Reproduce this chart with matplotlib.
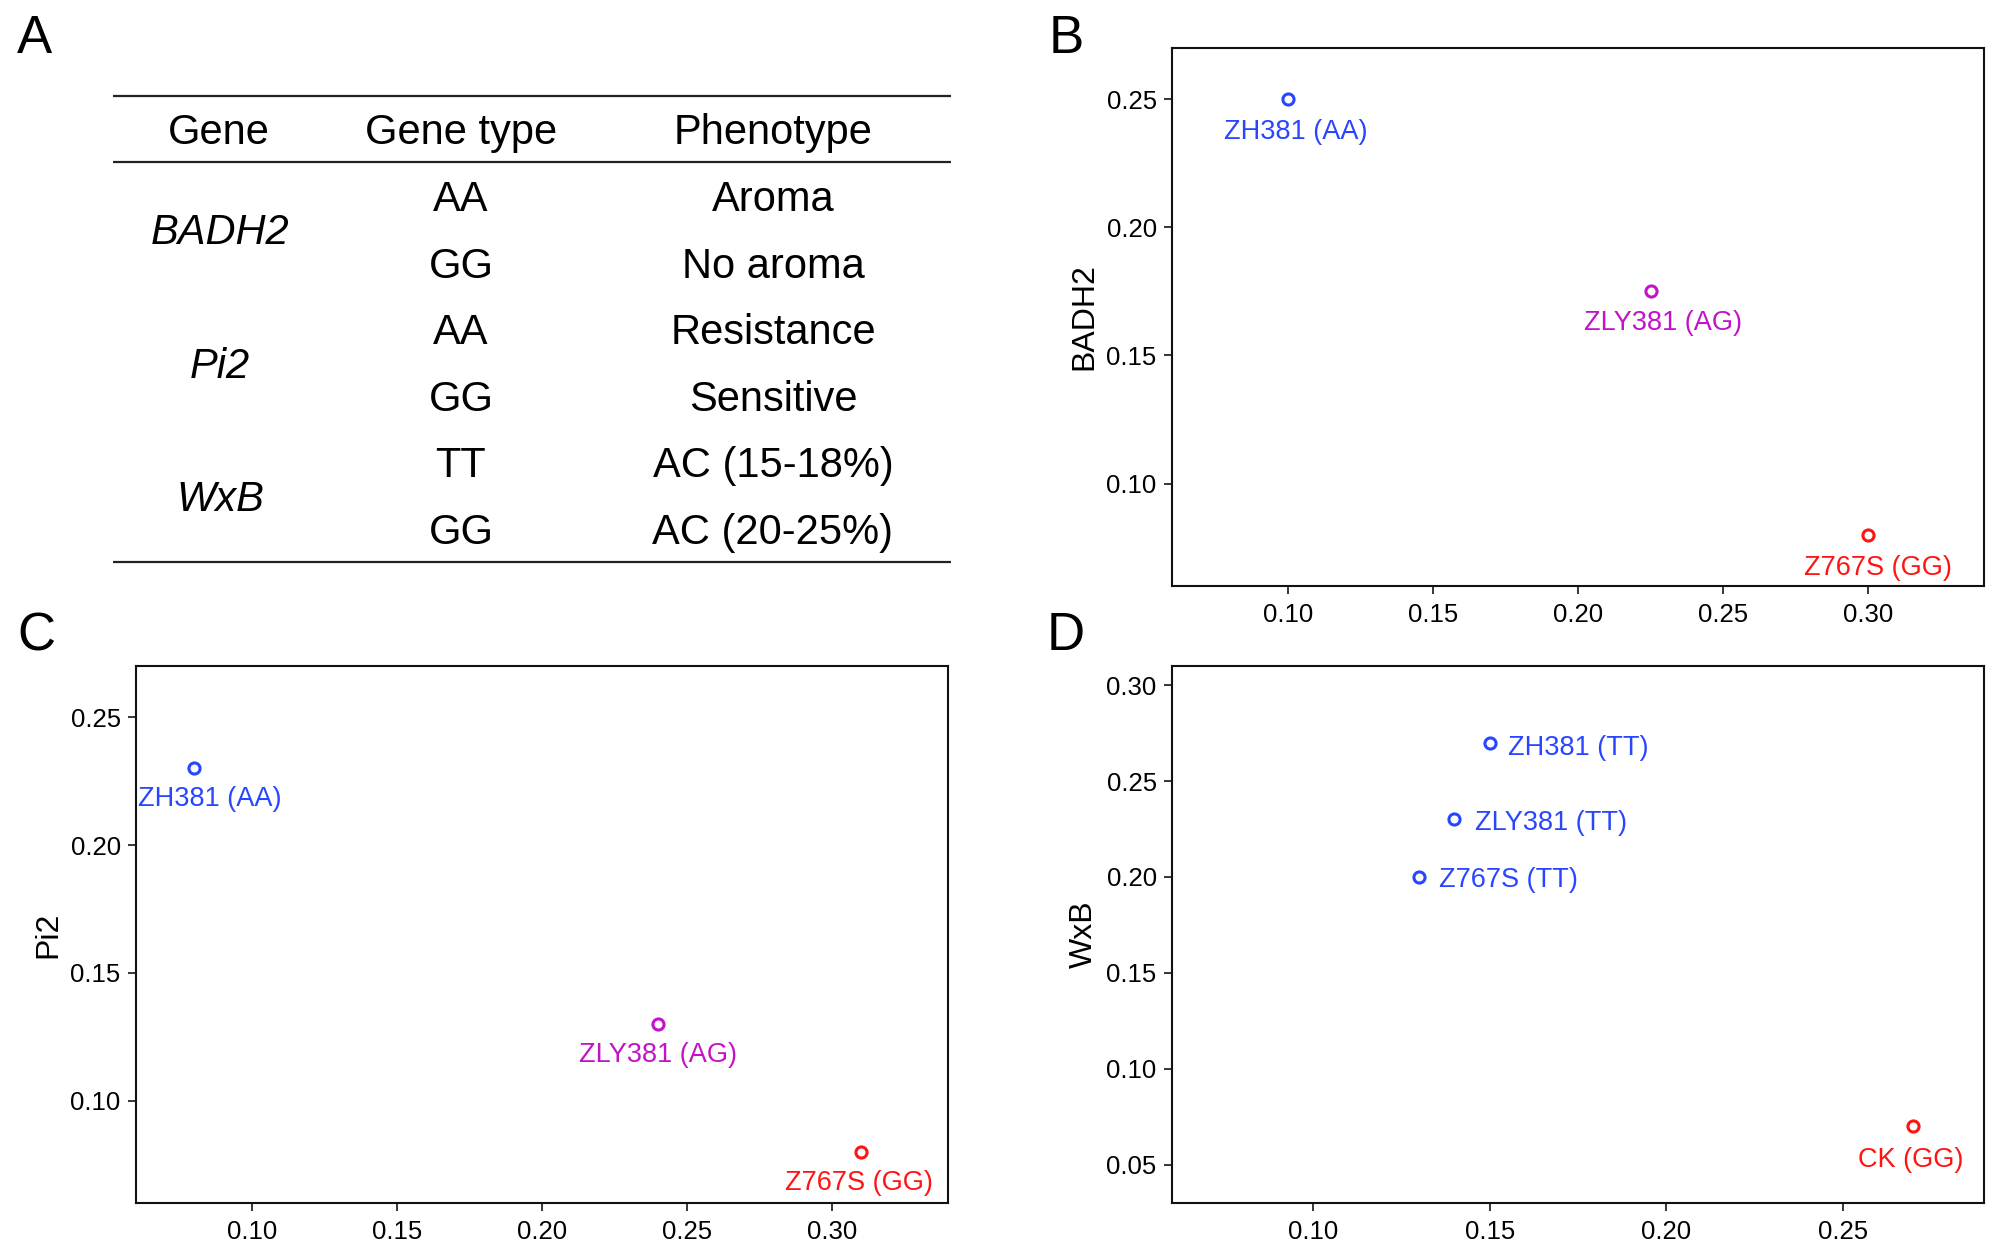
import matplotlib
matplotlib.use("Agg")
import matplotlib.pyplot as plt

plt.rcParams['font.family'] = ['Liberation Sans', 'DejaVu Sans']

# ---------------- data ----------------
table_header = ["Gene", "Gene type", "Phenotype"]
table_genes = ["BADH2", "Pi2", "WxB"]
table_genotypes = ["AA", "GG", "AA", "GG", "TT", "GG"]
table_phenotypes = ["Aroma", "No aroma", "Resistance", "Sensitive", "AC (15-18%)", "AC (20-25%)"]

b_labels = ["ZH381 (AA)", "ZLY381 (AG)", "Z767S (GG)"]
b_x = [0.10, 0.225, 0.30]
b_y = [0.25, 0.175, 0.08]

c_labels = ["ZH381 (AA)", "ZLY381 (AG)", "Z767S (GG)"]
c_x = [0.08, 0.24, 0.31]
c_y = [0.23, 0.13, 0.08]

d_labels = ["ZH381 (TT)", "ZLY381 (TT)", "Z767S (TT)", "CK (GG)"]
d_x = [0.15, 0.14, 0.13, 0.27]
d_y = [0.27, 0.23, 0.20, 0.07]

xticks_bc = [0.10, 0.15, 0.20, 0.25, 0.30]
yticks_bc = [0.10, 0.15, 0.20, 0.25]
xticks_d = [0.10, 0.15, 0.20, 0.25]
yticks_d = [0.05, 0.10, 0.15, 0.20, 0.25, 0.30]

# ---------------- style ----------------
BLUE = '#2846ff'
MAG = '#c313c8'
RED = '#ff1414'
W, H = 2001, 1259

fig = plt.figure(figsize=(W / 100, H / 100), dpi=100)

# overlay axes in pixel coordinates for table and panel letters
ov = fig.add_axes([0, 0, 1, 1])
ov.set_xlim(0, W)
ov.set_ylim(H, 0)
ov.axis('off')

for yl in (96, 162, 562):
    ov.plot([113, 951], [yl, yl], color='#222222', lw=1.6, solid_capstyle='butt')

col_x = [219, 461, 773]
TFS = 30
for cx, t in zip(col_x, table_header):
    ov.text(cx, 133, t, ha='center', va='center', fontsize=TFS)
row_y0, row_dy = 200, 66.6
for i, (gt, ph) in enumerate(zip(table_genotypes, table_phenotypes)):
    yy = row_y0 + i * row_dy
    ov.text(col_x[1], yy, gt, ha='center', va='center', fontsize=TFS)
    ov.text(col_x[2], yy, ph, ha='center', va='center', fontsize=TFS)
for j, g in enumerate(table_genes):
    yy = row_y0 + (2 * j + 0.5) * row_dy
    ov.text(col_x[0] + 1, yy, g, ha='center', va='center', fontsize=TFS, style='italic')

for letter, (px, py) in zip("ABCD", [(34, 39), (1066, 39), (36, 636), (1066, 636)]):
    ov.text(px, py, letter, ha='center', va='center', fontsize=38)


def make_ax(rect_px, xlim, ylim, xticks, yticks, ylabel):
    l, t, r, b = rect_px
    ax = fig.add_axes([l / W, 1 - b / H, (r - l) / W, (b - t) / H])
    ax.set_xlim(*xlim)
    ax.set_ylim(*ylim)
    ax.set_xticks(xticks)
    ax.set_yticks(yticks)
    ax.set_xticklabels([f"{v:.2f}" for v in xticks])
    ax.set_yticklabels([f"{v:.2f}" for v in yticks])
    for s in ax.spines.values():
        s.set_linewidth(1.5)
        s.set_color('#111111')
    ax.tick_params(axis='both', direction='out', length=6, width=1.1,
                   labelsize=18.5, top=False, right=False)
    ax.tick_params(axis='x', pad=6)
    ax.tick_params(axis='y', pad=5)
    ax.set_ylabel(ylabel, fontsize=23)
    ax.yaxis.set_label_coords(-0.090, 0.5)
    return ax


def draw_points(ax, xs, ys, labels, colors, offsets, has):
    for x, y, lab, c, off, ha in zip(xs, ys, labels, colors, offsets, has):
        ax.plot([x], [y], marker='o', ms=8, mew=2.2, mfc='none', mec=c, ls='none')
        ax.annotate(lab, (x, y), xytext=off, textcoords='offset pixels',
                    ha=ha, va='center', color=c, fontsize=19.5)


axB = make_ax((1172, 48, 1984, 586), (0.06, 0.34), (0.06, 0.27), xticks_bc, yticks_bc, "BADH2")
draw_points(axB, b_x, b_y, b_labels, [BLUE, MAG, RED],
            [(8, -33), (12, -32), (10, -33)], ['center'] * 3)

axC = make_ax((136, 666, 948, 1203), (0.06, 0.34), (0.06, 0.27), xticks_bc, yticks_bc, "Pi2")
draw_points(axC, c_x, c_y, c_labels, [BLUE, MAG, RED],
            [(16, -31), (0, -31), (-2, -31)], ['center'] * 3)

axD = make_ax((1172, 666, 1984, 1203), (0.06, 0.29), (0.03, 0.31), xticks_d, yticks_d, "WxB")
draw_points(axD, d_x, d_y, d_labels, [BLUE, BLUE, BLUE, RED],
            [(18, -5), (21, -4), (20, -3), (-3, -34)], ['left', 'left', 'left', 'center'])

fig.savefig("out.png", dpi=100)
